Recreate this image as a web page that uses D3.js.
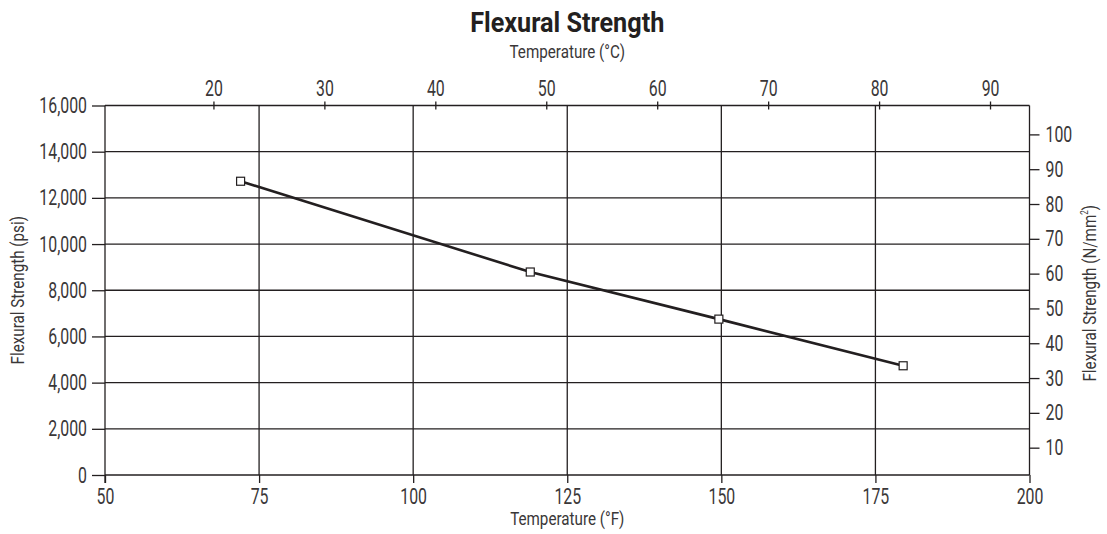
<!DOCTYPE html>
<html>
<head>
<meta charset="utf-8">
<script src="https://cdn.jsdelivr.net/npm/d3@7.9.0/dist/d3.min.js"></script>
<style>
  body { margin: 0; background: #fff; }
  svg { font-family: Roboto, "DejaVu Sans Condensed", sans-serif; fill: #231f20; }
  .grid line { stroke: #231f20; stroke-width: 1.3; }
  .axis path, .axis line { stroke: #231f20; stroke-width: 1.3; }
  .axis text { font-size: 22px; fill: #3a3738; font-family: Roboto, sans-serif; }
  .ttl { fill: #3a3738; }
</style>
</head>
<body>
<svg id="chart" width="1107" height="534"></svg>
<script>
// data
const tempF = [72, 119, 149.6, 179.5];
const strengthPsi = [12720, 8790, 6750, 4730];

const fTicks = [50, 75, 100, 125, 150, 175, 200];
const cTicks = [20, 30, 40, 50, 60, 70, 80, 90];
const psiTicks = [0, 2000, 4000, 6000, 8000, 10000, 12000, 14000, 16000];
const mpaTicks = [10, 20, 30, 40, 50, 60, 70, 80, 90, 100];

const margin = { left: 105, right: 77.5, top: 105.5, bottom: 59 };
const W = 1107, H = 534;

const svg = d3.select('#chart');

const x = d3.scaleLinear().domain([50, 200]).range([margin.left, W - margin.right]);
const y = d3.scaleLinear().domain([0, 16000]).range([H - margin.bottom, margin.top]);
// celsius axis on top, from F
const xc = d3.scaleLinear()
  .domain([(50 - 32) / 1.8, (200 - 32) / 1.8])
  .range([margin.left - 2.5, W - margin.right - 2.5]);
// N/mm2 on the right (as printed in the original)
const yr = d3.scaleLinear().domain([2.15, 108.3]).range([H - margin.bottom, margin.top]);

// grid
const grid = svg.append('g').attr('class', 'grid');
grid.selectAll('.v').data(fTicks.slice(1, -1)).join('line')
  .attr('x1', d => x(d)).attr('x2', d => x(d))
  .attr('y1', y(0)).attr('y2', y(16000));
grid.selectAll('.h').data(psiTicks.slice(1, -1)).join('line')
  .attr('y1', d => y(d)).attr('y2', d => y(d))
  .attr('x1', x(50)).attr('x2', x(200));

// frame
svg.append('line').attr('x1', x(50)).attr('x2', x(200)).attr('y1', y(16000)).attr('y2', y(16000))
  .attr('stroke', '#231f20').attr('stroke-width', 1.3);
svg.append('line').attr('x1', x(200)).attr('x2', x(200)).attr('y1', y(0)).attr('y2', y(16000))
  .attr('stroke', '#231f20').attr('stroke-width', 1.3);

// axes
svg.append('g').attr('class', 'axis')
  .attr('transform', `translate(0,${y(0)})`)
  .call(d3.axisBottom(x).tickValues(fTicks).tickSize(8).tickPadding(5).tickSizeOuter(0))
  .call(g => g.select('.domain').remove())
  .call(g => g.append('line').attr('x1', x(50)).attr('x2', x(200)).attr('stroke', '#231f20').attr('stroke-width', 1.3));

svg.append('g').attr('class', 'axis')
  .attr('transform', `translate(${x(50)},0)`)
  .call(d3.axisLeft(y).tickValues(psiTicks).tickFormat(d3.format(',')).tickSize(13).tickPadding(5))
  .call(g => g.select('.domain').attr('d', `M0,${y(0) + 8}V${y(16000)}`));

svg.append('g').attr('class', 'axis')
  .attr('transform', `translate(0,${y(16000)})`)
  .call(d3.axisTop(xc).tickValues(cTicks).tickSize(4).tickPadding(6))
  .call(g => g.select('.domain').remove())
  .call(g => g.selectAll('.tick line').attr('y1', 4));

svg.append('g').attr('class', 'axis')
  .attr('transform', `translate(${x(200)},0)`)
  .call(d3.axisRight(yr).tickValues(mpaTicks).tickSize(10).tickPadding(6))
  .call(g => g.select('.domain').remove());

// series
const pts = tempF.map((t, i) => [t, strengthPsi[i]]);
svg.append('path')
  .datum(pts)
  .attr('fill', 'none')
  .attr('stroke', '#231f20')
  .attr('stroke-width', 2.6)
  .attr('d', d3.line().x(d => x(d[0])).y(d => y(d[1])));

svg.selectAll('.mk').data(pts).join('rect')
  .attr('x', d => x(d[0]) - 4).attr('y', d => y(d[1]) - 4)
  .attr('width', 8).attr('height', 8)
  .attr('fill', '#fff').attr('stroke', '#231f20').attr('stroke-width', 1.2);

// titles
const cx = (x(50) + x(200)) / 2;
const title = svg.append('text').attr('x', cx).attr('y', 32).attr('text-anchor', 'middle')
  .attr('font-size', 28).attr('font-weight', 'bold').text('Flexural Strength');
svg.append('text').attr('class', 'ttl').attr('x', cx).attr('y', 58).attr('text-anchor', 'middle')
  .attr('font-size', 19).text('Temperature (°C)');
svg.append('text').attr('class', 'ttl').attr('x', cx).attr('y', 525).attr('text-anchor', 'middle')
  .attr('font-size', 19).text('Temperature (°F)');
svg.append('text').attr('class', 'ttl').attr('transform', `translate(24,${(y(0) + y(16000)) / 2}) rotate(-90)`)
  .attr('text-anchor', 'middle').attr('font-size', 19).text('Flexural Strength (psi)');
const rt = svg.append('text').attr('class', 'ttl').attr('transform', `translate(1096,${(y(0) + y(16000)) / 2 + 3}) rotate(-90)`)
  .attr('text-anchor', 'middle').attr('font-size', 19);
rt.append('tspan').text('Flexural Strength (N/mm');
rt.append('tspan').attr('font-size', 10).attr('dy', -8).text('2');
rt.append('tspan').attr('dy', 8).text(')');

// condensed look of the original typeface
function condense(sel, k) {
  sel.each(function () {
    const len = this.getComputedTextLength();
    d3.select(this).attr('textLength', len * k).attr('lengthAdjust', 'spacingAndGlyphs');
  });
}
condense(svg.selectAll('.axis text'), 0.72);
condense(svg.selectAll('.ttl'), 0.8);
condense(title, 0.9);
</script>
</body>
</html>
